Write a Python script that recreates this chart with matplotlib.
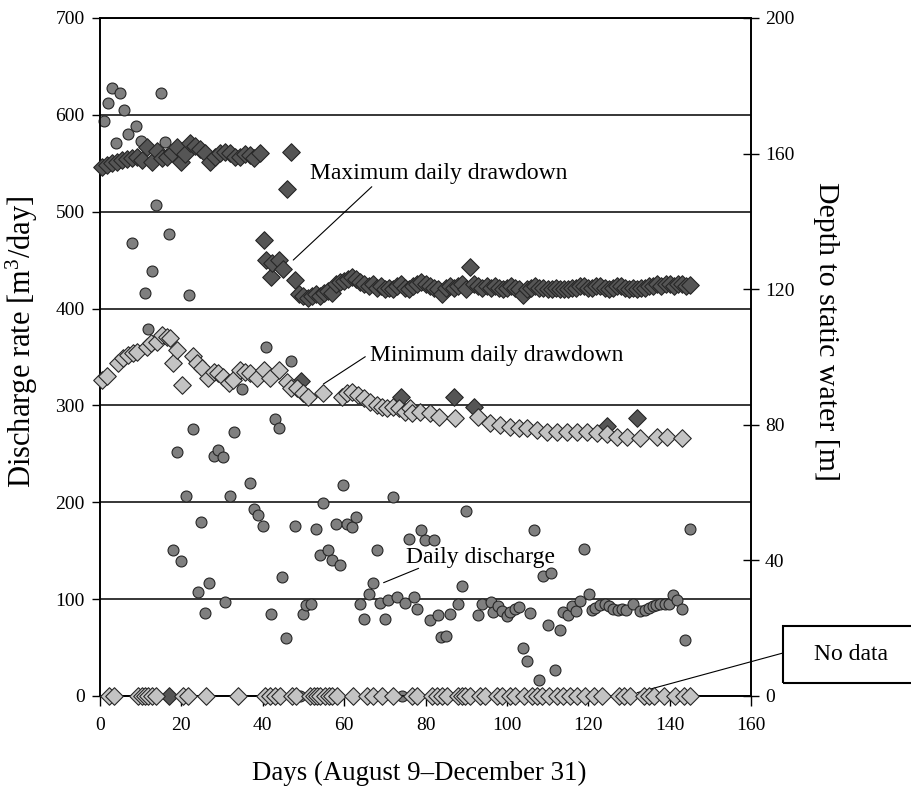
import matplotlib
matplotlib.use("Agg")
import matplotlib.pyplot as plt
from matplotlib.patches import Rectangle

plt.rcParams['font.family'] = ['Liberation Serif', 'DejaVu Serif']
plt.rcParams['mathtext.fontset'] = 'custom'
plt.rcParams['mathtext.rm'] = 'Liberation Serif'
plt.rcParams['mathtext.it'] = 'Liberation Serif:italic'
plt.rcParams['mathtext.bf'] = 'Liberation Serif:bold'

# ---------------- data ----------------
discharge_days = [1, 2, 2.9, 3.9, 4.9, 6, 7, 7.9, 8.9, 10,
                  11.1, 11.9, 12.9, 13.8, 15, 16, 16.9, 17.9, 18.9, 20,
                  21.2, 21.9, 22.8, 24, 24.9, 25.7, 26.9, 27.9, 29, 30.2,
                  30.8, 32, 33, 34.9, 36.9, 37.9, 38.9, 40.1, 40.8, 42,
                  43, 44, 44.8, 45.8, 47, 48, 49.9, 50.6, 51.9, 53,
                  54.1, 54.8, 56, 57, 58, 58.9, 59.8, 60.8, 62, 63,
                  63.8, 64.8, 66, 67.1, 68.1, 68.8, 70, 70.9, 72, 72.9,
                  74.9, 76, 77.1, 77.8, 78.8, 79.9, 81, 82, 83, 83.8,
                  85, 86, 87.9, 89, 89.9, 92.9, 94, 96.1, 96.7, 97.8,
                  98.8, 100, 100.8, 102.1, 102.9, 104, 104.9, 105.8, 106.7, 108,
                  109, 110, 110.8, 111.8, 113, 113.7, 115, 116, 117, 118,
                  119, 120.1, 120.8, 121.7, 122.8, 124, 125, 126.2, 127.2, 128.3,
                  129.4, 130.9, 132.8, 133.9, 134.9, 135.8, 136.7, 137.7, 138.8, 139.8,
                  140.8, 141.8, 143.1, 143.7, 144.9]
discharge_vals = [594, 612, 628, 571, 623, 605, 580, 468, 589, 573,
                  416, 379, 439, 507, 623, 572, 477, 151, 252, 139,
                  206, 414, 276, 107, 180, 86, 117, 248, 254, 247,
                  97, 206, 273, 317, 220, 193, 187, 176, 360, 85,
                  286, 277, 123, 60, 346, 176, 85, 94, 95, 172,
                  146, 199, 151, 140, 178, 135, 218, 178, 175, 185,
                  95, 80, 105, 117, 151, 96, 80, 99, 205, 102,
                  96, 162, 102, 90, 171, 161, 78, 161, 84, 61,
                  62, 85, 95, 114, 191, 84, 95, 97, 87, 93,
                  88, 83, 87, 90, 92, 50, 36, 86, 171, 17,
                  124, 73, 127, 27, 68, 87, 84, 93, 88, 98,
                  152, 105, 89, 91, 94, 95, 93, 90, 89, 90,
                  89, 95, 88, 89, 91, 93, 94, 95, 95, 95,
                  104, 99, 90, 58, 172]

maxdd_days_early = [0.4, 1.6, 2.9, 4.1, 5.3, 6.6, 7.8, 9.0, 10.2, 11.5,
                    12.7, 13.9, 15.2, 16.4, 17.6, 18.9, 19.9, 20.9, 22.1, 23.4,
                    24.6, 25.8, 27.1, 28.3, 29.5, 30.7, 32.0, 33.2, 34.4, 35.7,
                    36.9, 37.9, 39.4, 40.2, 40.7, 42.1, 42.2, 43.9, 44.9, 45.9,
                    47.0, 48.0]
maxdd_vals_early = [156.0, 156.6, 157.3, 157.6, 158.1, 158.3, 158.6, 159.1, 158.0, 161.9,
                    157.6, 160.9, 158.6, 159.1, 160.1, 161.9, 157.6, 159.9, 163.2, 162.2,
                    161.3, 160.1, 157.6, 159.1, 160.1, 160.6, 160.1, 159.1, 159.1, 159.9,
                    159.6, 158.6, 160.1, 134.5, 128.6, 123.7, 127.6, 128.6, 125.9, 149.5,
                    160.6, 122.7]
maxdd_days_late = list(range(49, 146))
maxdd_vals_late = [118.5, 118, 117.5, 118, 118.5, 118, 119, 119.5, 119,
                   121.5, 122, 122.5, 123, 123.5, 123, 122, 121.5,
                   121, 121.5, 120.5, 121, 120, 120.5, 120, 121, 121.5, 120.5,
                   120, 121, 121.5, 122, 121.5, 121, 120.5, 120, 118.5, 120.5,
                   121, 120.5, 121, 121.5, 120,
                   126.5,
                   121.5, 121, 120.5, 121, 120.5, 121, 120.5, 120, 120.5, 121,
                   120.5, 120, 118.2, 120, 120.5, 121, 120.5, 120.5, 120, 120,
                   120.5, 120, 120, 120, 120.5, 120.5, 121, 121, 120.5, 120.5,
                   121, 121, 120.5, 120, 120.5, 121, 121, 120.5, 120, 120.5,
                   120, 120.5, 120.5, 121, 121, 121.5, 121, 121.5, 121.5, 121,
                   121.5, 121.5, 121, 121.2]
maxdd_low_days = [49.5, 74.0, 87.1, 91.8, 124.6, 132.0]
maxdd_low_vals = [92.9, 88.1, 88.3, 85.2, 79.6, 81.9]

mindd_days = [0.4, 1.6, 4.5, 5.7, 7.0, 8.2, 9.0, 11.5, 12.5, 13.9,
              15.2, 16.4, 17.2, 18.0, 18.9, 20.1, 22.9, 23.8, 25.0, 26.6,
              27.9, 29.1, 30.3, 31.6, 32.8, 34.4, 35.7, 36.9, 38.5, 40.2,
              41.8, 43.9, 45.9, 47.0, 48.4, 50.0, 51.2, 54.9, 59.4, 60.7,
              61.9, 63.5, 64.8, 66.4, 68.0, 69.3, 70.5, 72.1, 73.4, 75.0,
              76.2, 76.7, 78.7, 81.2, 83.2, 87.3, 93.0, 95.9, 98.4, 100.8,
              102.9, 104.9, 107.4, 109.9, 112.3, 114.8, 117.2, 119.7, 122.2, 124.6,
              127.1, 129.5, 132.8, 136.9, 139.4, 143.1]
mindd_vals = [93.2, 94.5, 98.1, 99.6, 100.6, 101.1, 101.6, 103.0, 104.0, 104.5,
              106.5, 106.0, 105.5, 98.1, 102.1, 91.7, 100.3, 98.1, 96.7, 93.7,
              95.7, 95.2, 94.2, 92.2, 93.2, 96.2, 95.7, 95.2, 93.7, 96.2,
              93.7, 96.2, 92.7, 90.8, 90.8, 89.3, 88.3, 89.3, 88.3, 89.3,
              89.8, 88.8, 87.8, 86.8, 85.8, 85.3, 84.9, 85.3, 84.9, 83.9,
              84.9, 83.4, 83.9, 83.4, 82.4, 81.9, 82.4, 80.4, 79.9, 79.4,
              79.0, 79.0, 78.5, 78.0, 78.0, 78.0, 78.0, 78.0, 77.7, 77.3,
              76.5, 76.5, 76.0, 76.5, 76.5, 76.0]

# days with no data (plotted at zero)
nodata_days = [2.3, 3.5, 9.4, 10.2, 11.1, 11.9, 12.7, 13.8, 20.5, 21.7,
               26.1, 34.0, 40.6, 41.8, 43.0, 44.3, 47.1, 48.2, 51.6, 52.5,
               53.3, 54.1, 55.3, 56.2, 57.0, 58.2, 62.1, 65.6, 67.2, 69.3,
               72.0, 76.7, 77.9, 81.6, 82.8, 84.0, 85.3, 88.1, 89.0, 89.8,
               91.0, 93.5, 94.7, 97.6, 98.8, 100.8, 102.1, 104.1, 106.2, 107.4,
               108.6, 110.3, 112.3, 113.9, 115.6, 117.2, 119.3, 121.3, 123.4, 127.5,
               128.7, 130.3, 133.6, 134.9, 136.1, 138.5, 141.4, 143.5, 145.1]
nodata_max_days = [17.0]
nodata_discharge_days = [49.2, 74.2, 88.1]

x_ticks = [0, 20, 40, 60, 80, 100, 120, 140, 160]
left_ticks = [0, 100, 200, 300, 400, 500, 600, 700]
right_ticks = [0, 40, 80, 120, 160, 200]

# ---------------- figure ----------------
W, H = 911, 798
fig = plt.figure(figsize=(W / 100, H / 100), dpi=100)
ax = fig.add_axes([100 / W, 1 - 696 / H, 651 / W, 678 / H])
ax2 = ax.twinx()

circ_face = '#7f7f7f'
dark_face = '#555555'
light_face = '#c3c3c3'
edge = '#262626'

ax.scatter(discharge_days, discharge_vals, s=62, marker='o', facecolor=circ_face,
           edgecolor=edge, linewidth=0.8, zorder=3, clip_on=False)
ax.scatter(nodata_discharge_days, [0] * len(nodata_discharge_days), s=62, marker='o',
           facecolor=circ_face, edgecolor=edge, linewidth=0.8, zorder=3, clip_on=False)

dkw = dict(s=80, marker='D', linewidth=0.8, edgecolor=edge, clip_on=False)
ax2.scatter(maxdd_days_early + maxdd_days_late + maxdd_low_days,
            maxdd_vals_early + maxdd_vals_late + maxdd_low_vals,
            facecolor=dark_face, zorder=3, **dkw)
ax2.scatter(nodata_max_days, [0] * len(nodata_max_days), facecolor=dark_face, zorder=4, **dkw)
ax2.scatter(mindd_days, mindd_vals, facecolor=light_face, zorder=5, **dkw)
ax2.scatter(nodata_days, [0] * len(nodata_days), facecolor=light_face, zorder=5, **dkw)

# axes
ax.set_xlim(0, 160)
ax.set_ylim(0, 700)
ax2.set_ylim(0, 200)
ax.set_xticks(x_ticks)
ax.set_yticks(left_ticks)
ax2.set_yticks(right_ticks)
ax.yaxis.grid(True, color='black', linewidth=1.1)
ax.set_axisbelow(True)

for a in (ax, ax2):
    for sp in a.spines.values():
        sp.set_color('black')
        sp.set_linewidth(1.2)

ax.tick_params(axis='x', direction='out', length=7, width=1, pad=8, labelsize=14)
ax.tick_params(axis='y', direction='out', length=6, width=1, pad=5, labelsize=14)
ax2.tick_params(axis='y', direction='inout', length=12, width=1, pad=4, labelsize=14)

fig.text(22 / W, 1 - 342 / H, 'Discharge rate [m$^{3}$/day]', rotation=90,
         ha='center', va='center', fontsize=22)
fig.text(826 / W, 1 - 331 / H, 'Depth to static water [m]', rotation=270,
         ha='center', va='center', fontsize=21.5)
fig.text(419 / W, 1 - 773 / H, 'Days (August 9\u2013December 31)',
         ha='center', va='center', fontsize=19.4)

# annotations
fig.text(310 / W, 1 - 174 / H, 'Maximum daily drawdown', ha='left', va='center', fontsize=17)
fig.text(370 / W, 1 - 356 / H, 'Minimum daily drawdown', ha='left', va='center', fontsize=17)
fig.text(406 / W, 1 - 557 / H, 'Daily discharge', ha='left', va='center', fontsize=17)

lkw = dict(arrowprops=dict(arrowstyle='-', color='black', lw=0.8, shrinkA=0, shrinkB=0))
ax.annotate('', xy=(47.5, 450.1), xytext=(66.8, 525.8), **lkw)
ax.annotate('', xy=(54.9, 322.1), xytext=(65.2, 350.3), **lkw)
ax.annotate('', xy=(69.7, 117.0), xytext=(78.3, 131.8), **lkw)
ax.annotate('', xy=(132.0, 3.4), xytext=(783 / W, 1 - 653 / H),
            textcoords='figure fraction', annotation_clip=False, **lkw)

fig.add_artist(Rectangle((783 / W, 1 - 683 / H), 200 / W, 57 / H, transform=fig.transFigure,
                         fill=False, edgecolor='black', linewidth=1.5))
fig.text(851 / W, 1 - 655 / H, 'No data', ha='center', va='center', fontsize=17)

fig.savefig('out.png', dpi=100)
